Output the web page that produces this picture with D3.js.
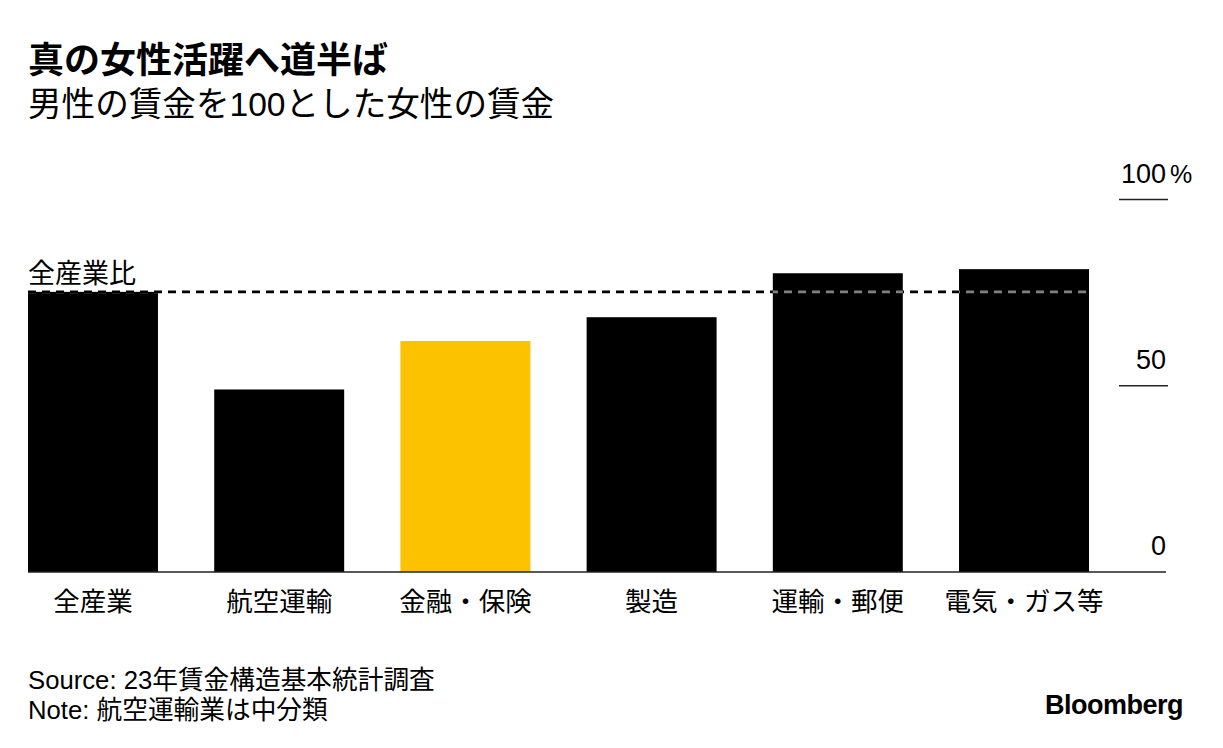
<!DOCTYPE html>
<html>
<head>
<meta charset="utf-8">
<script src="https://cdn.jsdelivr.net/npm/d3@7"></script>
<style>
  body { margin: 0; background: #fff; }
  text { font-family: "Liberation Sans", "Noto Sans CJK JP", sans-serif; fill: #000; }
</style>
</head>
<body>
<script>
// Data
const categories = ["全産業", "航空運輸", "金融・保険", "製造", "運輸・郵便", "電気・ガス等"];
const values = [75.2, 49.0, 62.0, 68.4, 80.2, 81.3];
const highlight = "金融・保険";
const refValue = 75.2;          // 全産業比
const refLabel = "全産業比";
const yTicks = [0, 50, 100];

const width = 1223, height = 748;

const svg = d3.select("body").append("svg")
    .attr("width", width)
    .attr("height", height);

// Scales
const x = d3.scaleBand()
    .domain(categories)
    .range([28, 1089])
    .paddingInner(0.302)
    .paddingOuter(0);

const y = d3.scaleLinear()
    .domain([0, 100])
    .range([572, 199.5]);

// Title
svg.append("text")
    .attr("x", 28).attr("y", 73)
    .style("font-size", "36px")
    .style("font-weight", "bold")
    .text("真の女性活躍へ道半ば");

svg.append("text")
    .attr("x", 28).attr("y", 116)
    .style("font-size", "33.6px")
    .text("男性の賃金を100とした女性の賃金");

// Bars
const chartData = categories.map((c, i) => ({ category: c, value: values[i] }));

svg.selectAll("rect.bar")
    .data(chartData)
    .enter()
    .append("rect")
    .attr("class", "bar")
    .attr("x", d => x(d.category))
    .attr("y", d => y(d.value))
    .attr("width", x.bandwidth())
    .attr("height", d => y(0) - y(d.value))
    .attr("fill", d => d.category === highlight ? "#fcc200" : "#000");

// clip of the bars so the reference line can go grey over them
svg.append("clipPath")
    .attr("id", "barsClip")
    .selectAll("rect")
    .data(chartData)
    .enter()
    .append("rect")
    .attr("x", d => x(d.category))
    .attr("y", d => y(d.value) + 1)
    .attr("width", x.bandwidth())
    .attr("height", d => y(0) - y(d.value));

// Reference line (全産業比)
const refX1 = x(categories[0]);
const refX2 = x(categories[categories.length - 1]) + x.bandwidth();

svg.append("line")
    .attr("x1", refX1).attr("x2", refX2)
    .attr("y1", y(refValue)).attr("y2", y(refValue))
    .attr("stroke", "#000")
    .attr("stroke-width", 2.8)
    .attr("stroke-dasharray", "8,6");

svg.append("line")
    .attr("x1", refX1).attr("x2", refX2)
    .attr("y1", y(refValue)).attr("y2", y(refValue))
    .attr("stroke", "#808080")
    .attr("stroke-width", 2.8)
    .attr("stroke-dasharray", "8,6")
    .attr("clip-path", "url(#barsClip)");

svg.append("text")
    .attr("x", 28).attr("y", y(refValue) - 9)
    .style("font-size", "27px")
    .text(refLabel);

// Baseline
svg.append("line")
    .attr("x1", 28).attr("x2", 1166)
    .attr("y1", y(0)).attr("y2", y(0))
    .attr("stroke", "#222")
    .attr("stroke-width", 1.5);

// Right-side y axis ticks
const tickG = svg.selectAll("g.ytick")
    .data(yTicks)
    .enter()
    .append("g")
    .attr("class", "ytick")
    .attr("transform", d => `translate(0,${y(d)})`);

tickG.filter(d => d !== 0)
    .append("line")
    .attr("x1", 1119).attr("x2", 1168)
    .attr("stroke", "#222")
    .attr("stroke-width", 1.5);

tickG.append("text")
    .attr("x", 1166)
    .attr("y", -17)
    .attr("text-anchor", "end")
    .style("font-size", "27px")
    .text(d => d);

tickG.filter(d => d === 100)
    .append("text")
    .attr("x", 1170)
    .attr("y", -17)
    .style("font-size", "25px")
    .text("%");

// Category labels
svg.selectAll("text.cat")
    .data(categories)
    .enter()
    .append("text")
    .attr("class", "cat")
    .attr("x", d => x(d) + x.bandwidth() / 2)
    .attr("y", 611)
    .attr("text-anchor", "middle")
    .style("font-size", "26.5px")
    .text(d => d);

// Footer
svg.append("text")
    .attr("x", 28).attr("y", 689)
    .style("font-size", "25.7px")
    .text("Source: 23年賃金構造基本統計調査");

svg.append("text")
    .attr("x", 28).attr("y", 719)
    .style("font-size", "25.7px")
    .text("Note: 航空運輸業は中分類");

svg.append("text")
    .attr("x", 1183).attr("y", 714)
    .attr("text-anchor", "end")
    .style("font-size", "27px")
    .style("font-weight", "bold")
    .style("letter-spacing", "-0.5px")
    .text("Bloomberg");
</script>
</body>
</html>
